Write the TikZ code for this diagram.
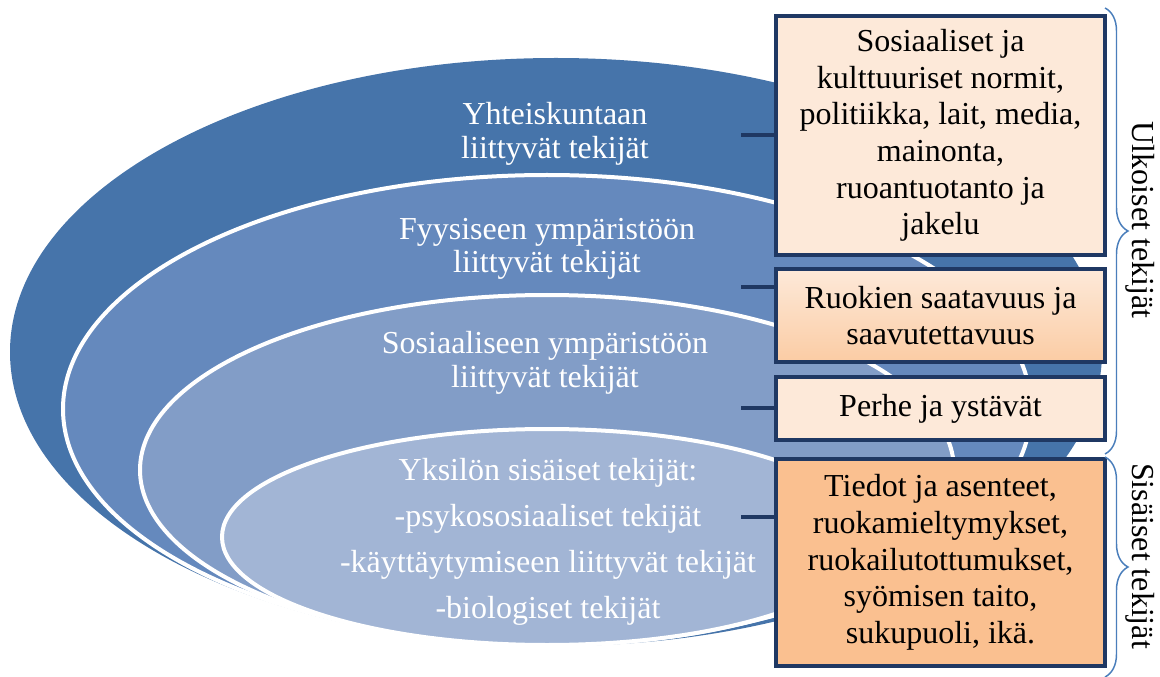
\documentclass[tikz,border=0pt]{standalone}
\usepackage{fontspec}
\setmainfont{Liberation Serif}
\usetikzlibrary{decorations.pathreplacing,shadows}
\definecolor{eA}{RGB}{70,116,170}
\definecolor{eB}{RGB}{101,137,189}
\definecolor{eC}{RGB}{130,157,199}
\definecolor{eD}{RGB}{162,181,213}
\definecolor{navy}{RGB}{31,56,99}
\definecolor{peachL}{RGB}{253,233,217}
\definecolor{peachM}{RGB}{251,204,164}
\definecolor{peachD}{RGB}{250,192,144}
\definecolor{brc}{RGB}{74,126,187}
\begin{document}
\begin{tikzpicture}[x=0.75pt,y=-0.75pt,
  ring/.style={draw=white,line width=3pt},
  lab/.style={text=white,font=\fontsize{24}{25}\selectfont,align=center,inner sep=0pt},
  fbox/.style={draw=navy,line width=3pt,minimum width=246.75pt,inner sep=0pt,align=center,
    font=\fontsize{24}{27.5}\selectfont,
    drop shadow={shadow xshift=1.5pt,shadow yshift=-1.5pt,opacity=0.35}},
  conn/.style={draw=navy,line width=3.2pt},
  sidebrace/.style={draw=brc,line width=1.1pt,decorate,decoration={brace,amplitude=17.25pt}},
  sidelab/.style={font=\fontsize{24}{25}\selectfont,rotate=-90,inner sep=0pt}
]
\useasboundingbox (0,0) rectangle (1160,677);
\fill[white] (0,0) rectangle (1160,677);
% nested ellipses
\path[fill=eA] (556,352) ellipse [x radius=409.5pt, y radius=220.5pt];
\path[fill=eB, ring] (547,409) ellipse [x radius=363pt, y radius=175.5pt];
\path[fill=eC, ring] (547,470) ellipse [x radius=305.25pt, y radius=131.25pt];
\path[fill=eD, ring] (547,537) ellipse [x radius=243.75pt, y radius=81pt];
% ellipse labels
\node[lab] (l1) at (555,134) {Yhteiskuntaan\\liittyvät tekijät};
\node[lab] (l2) at (547,249) {Fyysiseen ympäristöön\\liittyvät tekijät};
\node[lab] (l3) at (545,363) {Sosiaaliseen ympäristöön\\liittyvät tekijät};
\node[lab, font=\fontsize{24}{34.5}\selectfont] (l4) at (548,541.5)
  {Yksilön sisäiset tekijät:\\-psykososiaaliset tekijät\\-käyttäytymiseen liittyvät tekijät\\-biologiset tekijät};
% boxes
\node[fbox, fill=peachL, minimum height=179.25pt] (b1) at (940.5,135.5)
  {\raisebox{-3pt}{\parbox{240pt}{\centering\baselineskip=27.5pt Sosiaaliset ja\\kulttuuriset normit,\\politiikka, lait, media,\\mainonta,\\ruoantuotanto ja\\jakelu}}};
\node[fbox, top color=peachL, bottom color=peachM, minimum height=69.75pt] (b2) at (940.5,315.5)
  {Ruokien saatavuus ja\\saavutettavuus};
\node[fbox, fill=peachL, minimum height=47.25pt] (b3) at (940.5,408.5)
  {Perhe ja ystävät};
\node[fbox, fill=peachD, minimum height=155.25pt] (b4) at (940.5,562.5)
  {Tiedot ja asenteet,\\ruokamieltymykset,\\ruokailutottumukset,\\syömisen taito,\\sukupuoli, ikä.};
% connectors
\coordinate (d1) at (741,135);
\coordinate (d2) at (741,287);
\coordinate (d3) at (741,408);
\coordinate (d4) at (741,517);
\draw[conn] (d1) -- (d1 -| b1.west);
\draw[conn] (d2) -- (d2 -| b2.west);
\draw[conn] (d3) -- (d3 -| b3.west);
\draw[conn] (d4) -- (d4 -| b4.west);
% braces
\coordinate (u1) at (1105,8);
\coordinate (u2) at (1105,454);
\coordinate (s1) at (1105,457);
\coordinate (s2) at (1105,677);
\draw[sidebrace] (u1) -- (u2);
\draw[sidebrace] (s1) -- (s2);
\node[sidelab] (ul) at (1140,220) {Ulkoiset tekijät};
\node[sidelab] (si) at (1140,556) {Sisäiset tekijät};
\end{tikzpicture}
\end{document}
